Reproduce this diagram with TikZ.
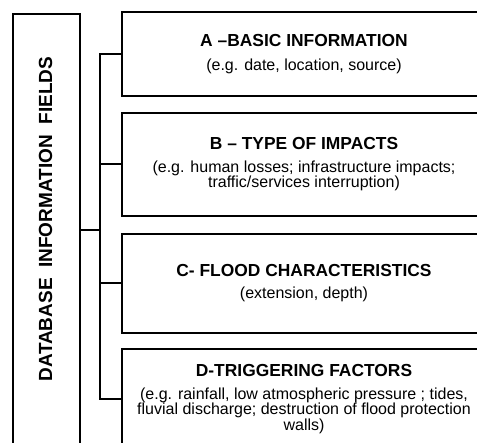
\documentclass[tikz,border=0pt]{standalone}
\usepackage{fontspec}
\setmainfont{Liberation Sans}
\usepackage{tikz}
\usetikzlibrary{positioning}

\begin{document}
\begin{tikzpicture}[x = 1pt, y = -1pt]
%\draw[very thin, color = gray](0, 0) grid[step = 50] (477, 443);
\useasboundingbox (0, 0) rectangle (477, 443);
\clip (0, 0) rectangle (477, 443);
\tikzstyle{box} = [draw, rectangle, line width = 2.4pt, minimum width = 364pt,
  align = center, font = \fontsize{16}{15.5}\selectfont];
\tikzstyle{tree} = [draw, line width = 2pt];
\node [draw, rectangle, line width = 2.4pt, minimum width = 67pt, minimum height = 460pt,
  anchor = north west] at (12, 13) (fields) {};
\node [rotate = 90, font = \fontsize{19}{20}\selectfont\bfseries] at (45.5, 219) (label)
  {DATABASE\ \ INFORMATION\ \ FIELDS};
\node [box, minimum height = 84pt] at (304, 54) (basic)
  {{\fontsize{17.4}{18}\selectfont\bfseries A --BASIC INFORMATION}\\[8pt]
   (e.g. date, location, source)};
\node [box, minimum height = 103pt] at (304, 164.3) (impacts)
  {{\fontsize{17.4}{18}\selectfont\bfseries B -- TYPE OF IMPACTS}\\[7.5pt]
   (e.g. human losses; infrastructure impacts;\\ traffic/services interruption)};
\node [box, minimum height = 99pt] at (304, 283.5) (flood)
  {{\fontsize{17.4}{18}\selectfont\bfseries C- FLOOD CHARACTERISTICS}\\[6.5pt]
   (extension, depth)};
\node [box, minimum height = 100pt] at (304, 399) (triggering)
  {{\fontsize{17.4}{18}\selectfont\bfseries D-TRIGGERING FACTORS}\\[7.5pt]
   (e.g. rainfall, low atmospheric pressure ; tides,\\ fluvial discharge; destruction of flood protection\\ walls)};
\coordinate (junction) at (100, 230);
\path [tree] (fields.east |- junction) -- (junction);
\path [tree] (basic.west) -| (junction) |- (triggering.west);
\path [tree] (junction |- impacts.west) -- (impacts.west);
\path [tree] (junction |- flood.west) -- (flood.west);
\end{tikzpicture}
\end{document}
